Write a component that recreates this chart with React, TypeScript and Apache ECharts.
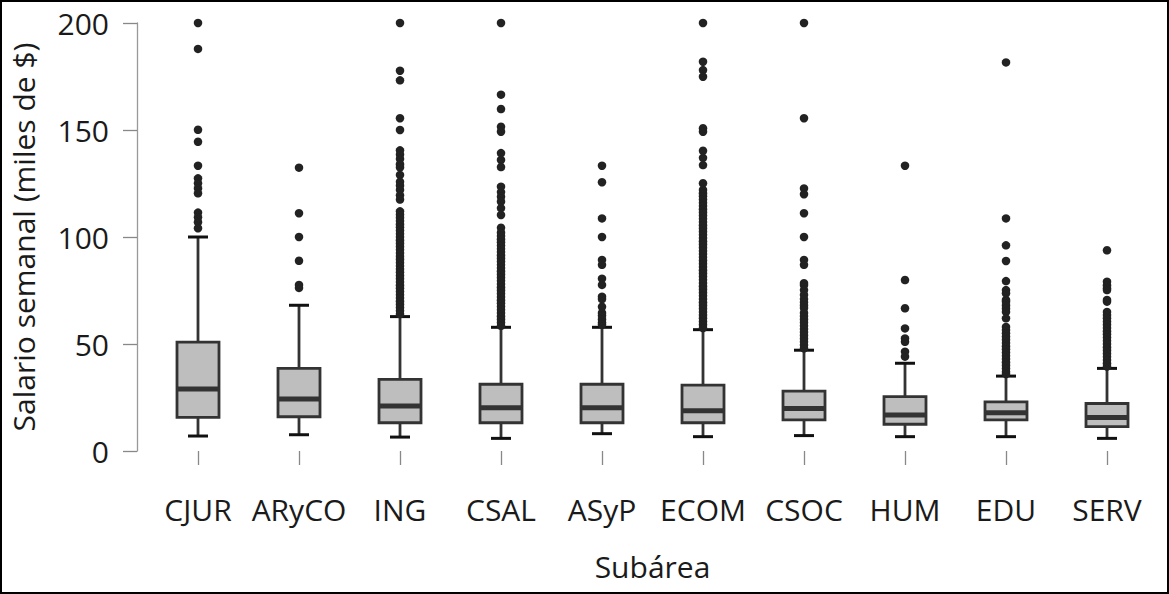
import React, { useEffect, useRef } from "react";
import * as echarts from "echarts";

const categories = ["CJUR", "ARyCO", "ING", "CSAL", "ASyP", "ECOM", "CSOC", "HUM", "EDU", "SERV"];

// [lower whisker, Q1, median, Q3, upper whisker]
const boxStats: number[][] = [
  [7.0, 15.7, 29.0, 50.9, 100.0],
  [7.6, 16.0, 24.3, 38.6, 68.1],
  [6.5, 13.2, 21.0, 33.5, 62.8],
  [5.9, 13.2, 20.2, 31.2, 57.8],
  [8.1, 13.2, 20.2, 31.2, 57.8],
  [6.7, 13.2, 18.8, 30.8, 56.7],
  [7.2, 14.5, 19.9, 28.0, 47.1],
  [6.7, 12.5, 16.8, 25.4, 41.0],
  [6.7, 14.5, 17.9, 23.0, 35.0],
  [5.9, 11.4, 15.7, 22.2, 38.6],
];

const outCJUR = [200, 187.9, 150.1, 144.5, 133.3, 127.4, 125.1, 122.7, 120.4, 111.4, 109.2, 106.9, 104.1];
const outARyCO = [132.4, 111.1, 100, 88.9, 77.6, 76.2];
const outING = [200, 177.7, 173.2, 155.5, 150, 140.5, 138.5, 136.5, 134, 132.5, 129, 125.8, 124, 122, 119.5, 117.5,
  112, 110.5, 109, 107.5, 106, 104.5, 103, 101.5, 100, 98.5, 97, 95.5, 94, 92.5, 91, 89.5, 88, 86.5, 85, 83.5, 82,
  80.5, 79, 77.5, 76, 74.5, 73, 71.5, 70, 68.5, 67, 65.5, 64];
const outCSAL = [200, 166.5, 159.8, 151.5, 149.2, 139.2, 136, 132.7, 123.5, 121, 118.8, 116.5, 113.5, 110.3, 104.3,
  102, 100.5, 99, 97.5, 96, 94.5, 93, 91.5, 90, 88.5, 87, 85.5, 84, 82.5, 81, 79.5, 78, 76.5, 75, 73.5, 72, 70.5,
  69, 67.5, 66, 64.5, 63, 61.5, 60, 58.5];
const outASyP = [133.3, 125.6, 108.7, 100, 89.3, 87, 80.5, 77.6, 72.1, 71, 67.4, 64.5, 63.3, 61.5, 60, 59];
const outECOM = [200, 181.9, 178, 174.9, 150.8, 149.2, 140.3, 137, 133.6, 125.1,
  122, 120.5, 119, 117.5, 116, 114.5, 113, 111.5, 110, 108.5, 107, 105.5, 104, 102.5, 101, 99.5, 98, 96.5, 95, 93.5,
  92, 90.5, 89, 87.5, 86, 84.5, 83, 81.5, 80, 78.5, 77, 75.5, 74, 72.5, 71, 69.5, 68, 66.5, 65, 63.5, 62, 60.5, 59, 57.5];
const outCSOC = [200, 155.5, 122.7, 120, 111.1, 100, 89.3, 87, 78.4, 77.5, 75.2, 72.9, 71, 69.5, 68, 66.8,
  64.5, 63, 61.5, 60, 58.5, 57, 55.5, 54, 52.5, 51, 49.5, 48];
const outHUM = [133.3, 79.9, 66.7, 57.3, 52.6, 51, 46.4, 44.1];
const outEDU = [181.6, 108.7, 96.1, 88.8, 79.4, 75.2, 73.7, 70.6, 69.8, 68, 66.5, 65, 62,
  58, 56.5, 55, 53.5, 52, 50.5, 49, 47.5, 46, 44.5, 43, 41.5, 40, 38.5, 37, 36];
const outSERV = [93.8, 79.1, 77.5, 76, 75.2, 70.6, 69.8,
  65, 63.5, 62, 60.5, 59, 57.5, 56, 54.5, 53, 51.5, 50, 48.5, 47, 45.5, 44, 42.5, 41, 39.5];

const outliers = [outCJUR, outARyCO, outING, outCSAL, outASyP, outECOM, outCSOC, outHUM, outEDU, outSERV];

const yTicks = { min: 0, max: 200, interval: 50 };

export default function App() {
  const ref = useRef<HTMLDivElement>(null);

  useEffect(() => {
    document.body.style.margin = "0";
    const chart = echarts.init(ref.current!, null, { renderer: "svg" });

    const boxData = boxStats.map((s, i) => [i, ...s]);
    const outData: number[][] = [];
    outliers.forEach((arr, i) => arr.forEach((v) => outData.push([i, v])));

    const font = "'Open Sans', 'Noto Sans', sans-serif";
    const BOX_W = 42;
    const CAP_W = 20;

    chart.setOption({
      animation: false,
      grid: { left: 147.5, right: 11.5, top: 23, bottom: 143 },
      xAxis: {
        type: "category",
        data: categories,
        offset: 22,
        axisLine: { show: false },
        axisTick: { show: true, alignWithLabel: true, interval: 0, length: 14, lineStyle: { color: "#888", width: 1.3 } },
        axisLabel: { fontSize: 30, color: "#1a1a1a", fontFamily: font, margin: 21, interval: 0 },
        name: "Subárea",
        nameLocation: "middle",
        nameGap: 78,
        nameTextStyle: { fontSize: 30, color: "#1a1a1a", fontFamily: font },
        splitLine: { show: false },
      },
      yAxis: {
        type: "value",
        min: yTicks.min,
        max: yTicks.max,
        interval: yTicks.interval,
        offset: 10.5,
        axisLine: { show: true, lineStyle: { color: "#999", width: 1.3 } },
        axisTick: { show: true, length: 14, lineStyle: { color: "#888", width: 1.3 } },
        axisLabel: { fontSize: 30, color: "#1a1a1a", fontFamily: font, margin: 28 },
        splitLine: { show: false },
        name: "Salario semanal (miles de $)",
        nameLocation: "middle",
        nameGap: 99,
        nameTextStyle: { fontSize: 30, color: "#1a1a1a", fontFamily: font },
      },
      graphic: [
        {
          type: "rect",
          shape: { x: 1, y: 1, width: 1167, height: 592 },
          style: { fill: "none", stroke: "#000", lineWidth: 2 },
          silent: true,
          z: 100,
        },
      ],
      series: [
        {
          type: "custom",
          data: boxData,
          encode: { x: 0, y: [1, 2, 3, 4, 5] },
          renderItem: (params: any, api: any) => {
            const idx = api.value(0);
            const lo = api.coord([idx, api.value(1)]);
            const q1 = api.coord([idx, api.value(2)]);
            const md = api.coord([idx, api.value(3)]);
            const q3 = api.coord([idx, api.value(4)]);
            const hi = api.coord([idx, api.value(5)]);
            const cx = lo[0];
            const lineStyle = { stroke: "#333", lineWidth: 2.8, fill: "none" };
            const capStyle = { stroke: "#111", lineWidth: 3, fill: "none" };
            return {
              type: "group",
              children: [
                { type: "line", shape: { x1: cx, y1: lo[1], x2: cx, y2: q1[1] }, style: lineStyle },
                { type: "line", shape: { x1: cx, y1: q3[1], x2: cx, y2: hi[1] }, style: lineStyle },
                { type: "line", shape: { x1: cx - CAP_W / 2, y1: lo[1], x2: cx + CAP_W / 2, y2: lo[1] }, style: capStyle },
                { type: "line", shape: { x1: cx - CAP_W / 2, y1: hi[1], x2: cx + CAP_W / 2, y2: hi[1] }, style: capStyle },
                {
                  type: "rect",
                  shape: { x: cx - BOX_W / 2, y: q3[1], width: BOX_W, height: q1[1] - q3[1] },
                  style: { fill: "#bebebe", stroke: "#333", lineWidth: 2.8 },
                },
                {
                  type: "line",
                  shape: { x1: cx - BOX_W / 2, y1: md[1], x2: cx + BOX_W / 2, y2: md[1] },
                  style: { stroke: "#333", lineWidth: 5 },
                },
              ],
            };
          },
          z: 2,
        },
        {
          type: "scatter",
          data: outData,
          symbol: "circle",
          symbolSize: 8.5,
          itemStyle: { color: "#222", opacity: 1 },
          z: 3,
        },
      ],
    });

    return () => chart.dispose();
  }, []);

  return <div ref={ref} style={{ width: 1169, height: 594 }} />;
}
